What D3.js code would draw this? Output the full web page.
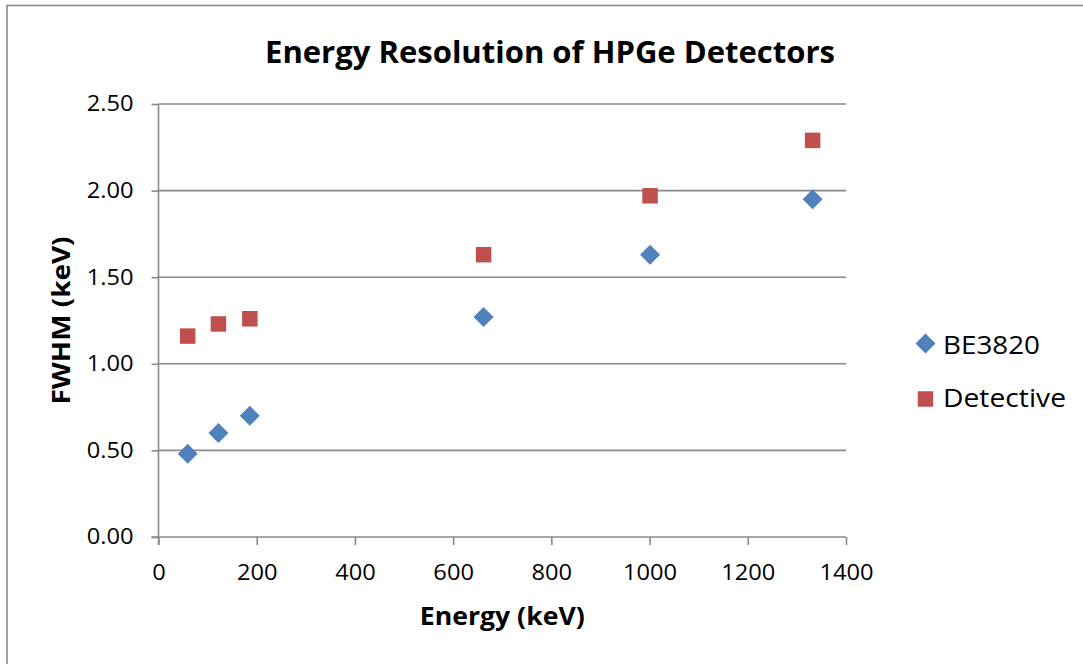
<!DOCTYPE html>
<html>
<head>
<meta charset="utf-8">
<script src="https://cdn.jsdelivr.net/npm/d3@7"></script>
<style>
  html, body { margin: 0; padding: 0; background: #fff; }
  svg { display: block; }
  text { font-family: "Open Sans", "DejaVu Sans", sans-serif; fill: #000; }
</style>
</head>
<body>
<svg id="chart" width="1083" height="664"></svg>
<script>
// Gamma line energies (keV) and measured FWHM (keV) per detector
const energies  = [59.5, 122, 186, 662, 1001, 1332];
const be3820    = [0.48, 0.60, 0.70, 1.27, 1.63, 1.95];
const detective = [1.16, 1.23, 1.26, 1.63, 1.97, 2.29];

const seriesNames  = ["BE3820", "Detective"];
const seriesColors = ["#4F81BD", "#C0504D"];

const xTicks = [0, 200, 400, 600, 800, 1000, 1200, 1400];
const yTicks = [0, 0.5, 1.0, 1.5, 2.0, 2.5];

const titleText  = "Energy Resolution of HPGe Detectors";
const xTitleText = "Energy (keV)";
const yTitleText = "FWHM (keV)";

const svg = d3.select("#chart");

// chart frame
svg.append("rect")
  .attr("x", 7).attr("y", 5.5)
  .attr("width", 1200).attr("height", 800)
  .attr("fill", "none").attr("stroke", "#8a8a8a").attr("stroke-width", 1.6);

const plot = { left: 158.5, right: 846, top: 104, bottom: 537 };

const x = d3.scaleLinear().domain([0, 1400]).range([plot.left, plot.right]);
const y = d3.scaleLinear().domain([0, 2.5]).range([plot.bottom, plot.top]);

const gridColor = "#8a8a8a";

// horizontal gridlines
svg.append("g")
  .selectAll("line")
  .data(yTicks.filter(d => d > 0))
  .join("line")
  .attr("x1", plot.left).attr("x2", plot.right)
  .attr("y1", d => y(d)).attr("y2", d => y(d))
  .attr("stroke", gridColor).attr("stroke-width", 1.6);

// widen tick labels slightly so they read like the condensed-height sans used in the chart
function styleTickText(sel) {
  sel.style("font-family", '"Open Sans", sans-serif')
    .style("font-size", "21.5px").attr("fill", "#000")
    .each(function () {
      const w = this.getComputedTextLength();
      d3.select(this).attr("textLength", w * 1.1).attr("lengthAdjust", "spacingAndGlyphs");
    });
}

// y axis
const yAxis = svg.append("g")
  .attr("transform", `translate(${plot.left},0)`)
  .call(d3.axisLeft(y).tickValues(yTicks).tickFormat(d3.format(".2f")).tickSize(7).tickPadding(18));
yAxis.select(".domain").attr("stroke", gridColor).attr("stroke-width", 1.6)
  .attr("d", `M0,${plot.top}V${plot.bottom + 8}`);
yAxis.selectAll(".tick line").attr("stroke", gridColor).attr("stroke-width", 1.6);
yAxis.selectAll(".tick text").call(styleTickText);

// x axis
const xAxis = svg.append("g")
  .attr("transform", `translate(0,${plot.bottom})`)
  .call(d3.axisBottom(x).tickValues(xTicks).tickFormat(d3.format("d")).tickSize(8).tickPadding(20));
xAxis.select(".domain").attr("stroke", gridColor).attr("stroke-width", 1.6)
  .attr("d", `M${plot.left - 7},0H${plot.right}`);
xAxis.selectAll(".tick line").attr("stroke", gridColor).attr("stroke-width", 1.6);
xAxis.selectAll(".tick text").call(styleTickText);

// marker shapes
const diamond = d3.symbol().type(d3.symbolSquare).size(200);
const square  = d3.symbol().type(d3.symbolSquare).size(240);

const series = [be3820, detective];

// BE3820 diamonds
svg.append("g")
  .selectAll("path")
  .data(energies.map((e, i) => [e, series[0][i]]))
  .join("path")
  .attr("d", diamond)
  .attr("transform", d => `translate(${x(d[0])},${y(d[1])}) rotate(45)`)
  .attr("fill", seriesColors[0]);

// Detective squares
svg.append("g")
  .selectAll("path")
  .data(energies.map((e, i) => [e, series[1][i]]))
  .join("path")
  .attr("d", square)
  .attr("transform", d => `translate(${x(d[0])},${y(d[1])})`)
  .attr("fill", seriesColors[1]);

// title
svg.append("text")
  .attr("x", 550).attr("y", 63)
  .attr("text-anchor", "middle")
  .attr("font-weight", "bold").attr("font-size", 29.5)
  .attr("textLength", 570).attr("lengthAdjust", "spacingAndGlyphs")
  .text(titleText);

// x axis title
svg.append("text")
  .attr("x", (plot.left + plot.right) / 2).attr("y", 625)
  .attr("text-anchor", "middle")
  .attr("font-weight", "bold").attr("font-size", 25.5)
  .attr("textLength", 165).attr("lengthAdjust", "spacingAndGlyphs")
  .text(xTitleText);

// y axis title
svg.append("text")
  .attr("transform", `translate(70,${(plot.top + plot.bottom) / 2}) rotate(-90)`)
  .attr("text-anchor", "middle")
  .attr("font-weight", "bold").attr("font-size", 25.5)
  .attr("textLength", 168).attr("lengthAdjust", "spacingAndGlyphs")
  .text(yTitleText);

// legend
const legend = svg.append("g");
const legendRows = [
  { name: seriesNames[0], color: seriesColors[0], shape: diamond, rot: 45, cy: 343.5, base: 353.5, width: 97 },
  { name: seriesNames[1], color: seriesColors[1], shape: square,  rot: 0,  cy: 399,   base: 407,   width: 123 }
];
legendRows.forEach(r => {
  legend.append("path")
    .attr("d", r.shape)
    .attr("transform", `translate(925.5,${r.cy}) rotate(${r.rot})`)
    .attr("fill", r.color);
  legend.append("text")
    .attr("x", 943).attr("y", r.base)
    .attr("font-size", 25.5)
    .attr("textLength", r.width).attr("lengthAdjust", "spacingAndGlyphs")
    .text(r.name);
});
</script>
</body>
</html>
